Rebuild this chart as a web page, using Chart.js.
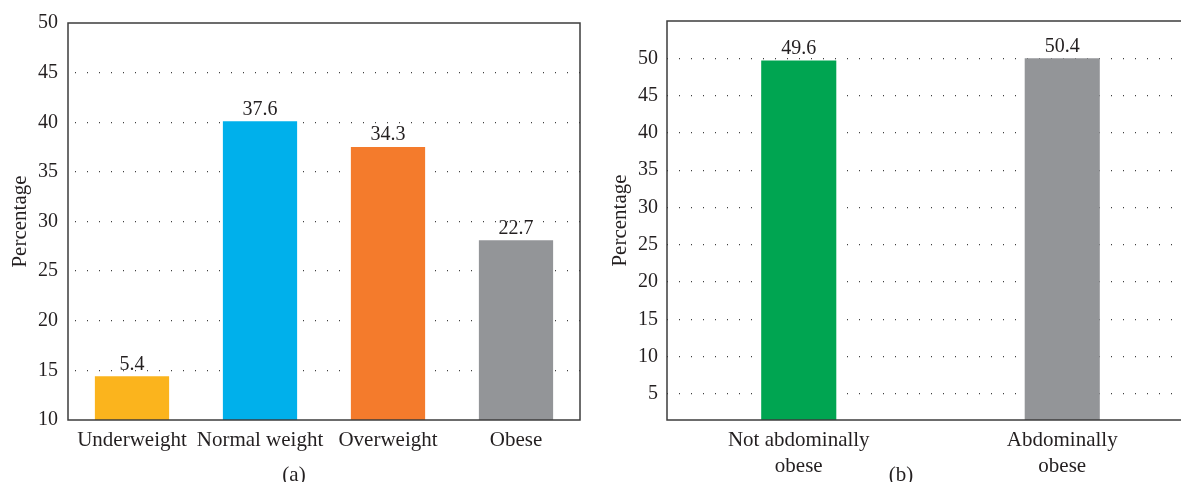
<!DOCTYPE html>
<html>
<head>
<meta charset="utf-8">
<script src="https://cdn.jsdelivr.net/npm/chart.js@4.4.1/dist/chart.umd.min.js"></script>
<style>
    html, body { margin: 0; padding: 0; background: #fff; }
    .page { position: relative; width: 1181px; height: 482px; overflow: hidden; }
    .panel { position: absolute; top: 0; overflow: hidden; height: 482px; }
    .caption {
        position: absolute;
        font-family: 'Liberation Serif', serif;
        font-size: 21px;
        line-height: 24px;
        color: #231f20;
        transform: translateX(-50%);
    }
</style>
</head>
<body>
<div class="page">
    <div class="panel" style="left:0;width:590px;">
        <canvas id="chartA" width="590" height="482"></canvas>
    </div>
    <div class="panel" style="left:590px;width:591px;">
        <canvas id="chartB" width="610" height="482"></canvas>
    </div>
    <div class="caption" style="left:294px;top:462px;">(a)</div>
    <div class="caption" style="left:901px;top:462px;">(b)</div>
</div>

<script>
// (a) BMI categories
const categoriesA = ['Underweight', 'Normal weight', 'Overweight', 'Obese'];
const barHeightsA = [14.4, 40.1, 37.5, 28.1]; // heights as drawn in the figure
const valueLabelsA = ['5.4', '37.6', '34.3', '22.7'];
const ticksA = [10, 15, 20, 25, 30, 35, 40, 45, 50];

// (b) abdominal obesity
const categoriesB = [['Not abdominally', 'obese'], ['Abdominally', 'obese']];
const barHeightsB = [49.7, 50.0];
const valueLabelsB = ['49.6', '50.4'];
const ticksB = [5, 10, 15, 20, 25, 30, 35, 40, 45, 50];

const colorsA = ['#fbb41d', '#00b0eb', '#f47b2c', '#939598'];
const colorsB = ['#00a551', '#939598'];

const TEXT = '#231f20';
const AXIS = '#3d3d3d';

Chart.defaults.font.family = "'Liberation Serif', serif";
Chart.defaults.font.size = 20;
Chart.defaults.color = TEXT;

// box around the plot area + value labels over the bars
const frameAndLabels = {
    id: 'frameAndLabels',
    afterDatasetsDraw(chart, args, opts) {
        const { ctx, chartArea: a } = chart;
        ctx.save();
        ctx.strokeStyle = AXIS;
        ctx.lineWidth = 1.5;
        ctx.strokeRect(a.left, a.top, a.right - a.left, a.bottom - a.top);

        ctx.fillStyle = TEXT;
        ctx.font = "20px 'Liberation Serif', serif";
        ctx.textAlign = 'center';
        ctx.textBaseline = 'middle';
        chart.getDatasetMeta(0).data.forEach((bar, i) => {
            ctx.fillText(opts.labels[i], bar.x, bar.y - 12);
        });
        ctx.restore();
    },
};

function makeChart(id, cfg) {
    return new Chart(document.getElementById(id), {
        type: 'bar',
        data: {
            labels: cfg.categories,
            datasets: [
                {
                    data: cfg.values,
                    backgroundColor: cfg.colors,
                    borderWidth: 0,
                    barPercentage: cfg.barPct,
                    categoryPercentage: 1,
                },
            ],
        },
        options: {
            responsive: false,
            devicePixelRatio: 1,
            animation: false,
            layout: { padding: cfg.padding },
            plugins: {
                legend: { display: false },
                tooltip: { enabled: false },
                frameAndLabels: { labels: cfg.valueLabels },
            },
            scales: {
                x: {
                    grid: { display: false, drawTicks: false },
                    border: { display: false },
                    ticks: { padding: 7, font: { size: 21, lineHeight: 1.24 }, maxRotation: 0, autoSkip: false },
                    afterFit: (axis) => { axis.height = 62; },
                },
                y: {
                    min: cfg.yMin,
                    max: cfg.yMax,
                    afterBuildTicks: (axis) => { axis.ticks = cfg.ticks.map((v) => ({ value: v })); },
                    grid: {
                        drawTicks: false,
                        lineWidth: 1.3,
                        color: (c) => (c.tick && (c.tick.value === cfg.yMin || c.tick.value === cfg.yMax) ? 'rgba(0,0,0,0)' : '#3f3f3f'),
                    },
                    border: { display: false, dash: [1, 11], dashOffset: cfg.dashOffset },
                    ticks: { padding: cfg.tickPad, font: { size: 20 } },
                    title: { display: true, text: 'Percentage', font: { size: 21 }, padding: { top: cfg.titlePad } },
                    afterFit: (axis) => { axis.width = cfg.yWidth; },
                },
            },
        },
        plugins: [frameAndLabels],
    });
}

makeChart('chartA', {
    categories: categoriesA,
    values: barHeightsA,
    valueLabels: valueLabelsA,
    colors: colorsA,
    ticks: ticksA,
    yMin: 10,
    yMax: 50,
    barPct: 0.58,
    padding: { top: 23, right: 10, left: 0, bottom: 0 },
    yWidth: 68,
    tickPad: 10,
    titlePad: 8,
    dashOffset: 5,
});

makeChart('chartB', {
    categories: categoriesB,
    values: barHeightsB,
    valueLabels: valueLabelsB,
    colors: colorsB,
    ticks: ticksB,
    yMin: 1.5,
    yMax: 55,
    barPct: 0.285,
    padding: { top: 20, right: 6, left: 0, bottom: 0 },
    yWidth: 77,
    tickPad: 9,
    titlePad: 18,
    dashOffset: 0,
});
</script>
</body>
</html>
